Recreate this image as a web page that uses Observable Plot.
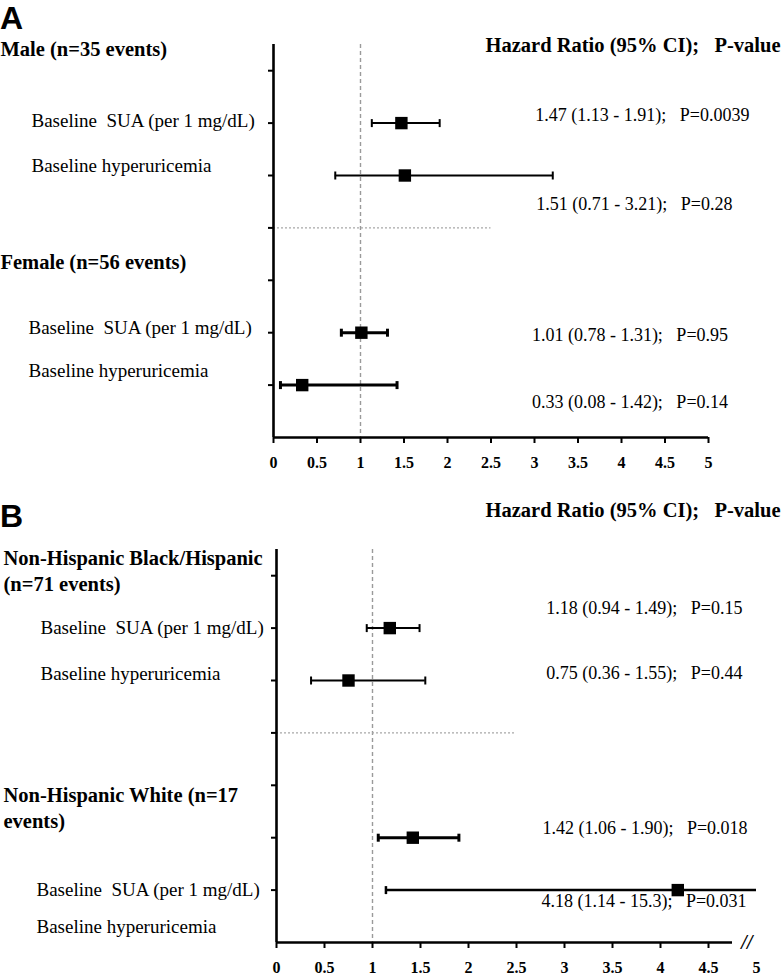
<!DOCTYPE html>
<html><head><meta charset="utf-8">
<script src="https://cdn.jsdelivr.net/npm/d3@7"></script>
<script src="https://cdn.jsdelivr.net/npm/@observablehq/plot@0.6"></script>
<style>
body{margin:0;background:#fff;}
#wrap{position:relative;width:782px;height:975px;overflow:hidden;}
.panel{position:absolute;left:0;}
.letter{position:absolute;left:0;font-family:"Liberation Sans",Arial,sans-serif;font-weight:bold;font-size:32px;line-height:1;}
svg text{white-space:pre;}
g[aria-label="x-axis tick label"] text{font-weight:bold;font-size:16px;}
</style>
</head><body>
<div id="wrap">
  <div class="letter" style="top:2px">A</div>
  <div class="letter" style="top:500px">B</div>
  <div class="panel" id="pa" style="top:0px"></div>
  <div class="panel" id="pb" style="top:480px"></div>
</div>
<script>
// ---------- data ----------
const rowLabels = ["Baseline  SUA (per 1 mg/dL)", "Baseline hyperuricemia"];
const headerText = "Hazard Ratio (95% CI);   P-value";
const xTicks = [0, 0.5, 1, 1.5, 2, 2.5, 3, 3.5, 4, 4.5, 5];

const A_groups = ["Male (n=35 events)", "Female (n=56 events)"];
const A_rows = [2, 3, 6, 7];
const A_hr = [1.47, 1.51, 1.01, 0.33];
const A_lo = [1.13, 0.71, 0.78, 0.08];
const A_hi = [1.91, 3.21, 1.31, 1.42];
const A_p  = ["0.0039", "0.28", "0.95", "0.14"];

const B_groups = ["Non-Hispanic Black/Hispanic\n(n=71 events)", "Non-Hispanic White (n=17\nevents)"];
const B_rows = [2, 3, 6, 7];
const B_hr = [1.18, 0.75, 1.42, 4.18];
const B_lo = [0.94, 0.36, 1.06, 1.14];
const B_hi = [1.49, 1.55, 1.90, 15.3];
const B_p  = ["0.15", "0.44", "0.018", "0.031"];

// ---------- layout (row units / pixels) ----------
const layoutA = {
  height: 480, marginTop: 44, marginBottom: 43, marginLeft: 273, marginRight: 74,
  groupY: [0.56, 4.62], groupX: [0, 0],
  labelY: [1.95, 2.81, 5.90, 6.72], labelX: [31, 31, 28, 28],
  hrY: [1.855, 3.55, 6.05, 7.33], hrX: [3.01, 3.02, 2.97, 2.97],
  headerY: 0.52, sw: [2, 2, 3, 3], axisEnd: 5, tickVals: xTicks, brk: false
};
const layoutB = {
  height: 495, marginTop: 69, marginBottom: 33, marginLeft: 276, marginRight: 26,
  groupY: [0.88, 5.41], groupX: [3, 3],
  labelY: [1.99, 2.87, 6.99, 7.71], labelX: [40, 40, 36, 36],
  hrY: [1.63, 2.87, 5.82, 7.22], hrX: [2.81, 2.81, 2.77, 2.76],
  headerY: -0.24, sw: [2, 2, 3, 2.5], axisEnd: 4.75, tickVals: xTicks.slice(0, -1), brk: true
};

const fmt = v => v >= 10 ? v.toFixed(1) : v.toFixed(2);
const vbar = {draw(ctx, size) { const r = Math.sqrt(size / Math.PI); ctx.moveTo(0, -r); ctx.lineTo(0, r); }};

function panel(groups, rows, hr, lo, hi, p, L) {
  const XMAX = 5;
  const data = rows.map((r, i) => ({i, row: r, hr: hr[i], lo: lo[i], hi: hi[i], p: p[i], sw: L.sw[i]}));
  const caps = [];
  data.forEach(d => {
    if (d.lo >= 0 && d.lo <= XMAX) caps.push({x: d.lo, row: d.row, sw: d.sw});
    if (d.hi <= XMAX) caps.push({x: d.hi, row: d.row, sw: d.sw});
  });
  const marks = [
    Plot.ruleX([1], {y1: 0.5, y2: 8, stroke: "#9a9a9a", strokeDasharray: "4,3", strokeWidth: 1.4}),
    Plot.ruleY([4], {x1: 0, x2: 2.5, stroke: "#a8a8a8", strokeDasharray: "2,2", strokeWidth: 1.4}),
    Plot.ruleY(data, {y: "row", x1: "lo", x2: d => Math.min(d.hi, XMAX), stroke: "black", strokeWidth: "sw"}),
    Plot.dot(caps, {x: "x", y: "row", symbol: vbar, r: 4, fill: "none", stroke: "black", strokeWidth: "sw"}),
    Plot.dot(data, {x: "hr", y: "row", symbol: "square", r: 7, fill: "black"}),
    Plot.ruleX([0], {y1: 0.5, y2: 8, stroke: "black", strokeWidth: 2.6}),
    Plot.ruleY([8], {x1: 0, x2: L.axisEnd, stroke: "black", strokeWidth: 2.6}),
    Plot.axisY({ticks: [1, 2, 3, 4, 5, 6, 7], tickSize: 5, tickFormat: () => "", strokeWidth: 2, label: null}),
    Plot.axisX({ticks: L.tickVals, tickSize: 6, tickFormat: () => "", strokeWidth: 2, label: null}),
    Plot.axisX({ticks: xTicks, tickSize: 0, tickPadding: 19, tickFormat: d => String(d), fontWeight: "bold", fontSize: 16, label: null}),
    Plot.text([headerText], {frameAnchor: "right", dx: 780 - (782 - L.marginRight), y: [L.headerY], textAnchor: "end", fontWeight: "bold", fontSize: 20.5}),
    Plot.text(data, {x: d => L.hrX[d.i], y: d => L.hrY[d.i], textAnchor: "start", fontSize: 18,
      text: d => `${fmt(d.hr)} (${fmt(d.lo)} - ${fmt(d.hi)});   P=${d.p}`})
  ];
  groups.forEach((g, gi) => {
    marks.push(Plot.text([g], {frameAnchor: "left", dx: L.groupX[gi] - L.marginLeft, y: [L.groupY[gi]], textAnchor: "start", fontWeight: "bold", fontSize: 20.5, lineHeight: 1.27}));
  });
  data.forEach(d => {
    marks.push(Plot.text([rowLabels[d.i % 2]], {frameAnchor: "left", dx: L.labelX[d.i] - L.marginLeft, y: [L.labelY[d.i]], textAnchor: "start", fontSize: 19}));
  });
  if (L.brk) marks.push(Plot.text(["//"], {x: [4.9], y: [8], fontWeight: "bold", fontSize: 20, fontStyle: "italic"}));
  return Plot.plot({
    width: 782, height: L.height,
    marginTop: L.marginTop, marginBottom: L.marginBottom, marginLeft: L.marginLeft, marginRight: L.marginRight,
    x: {domain: [0, 5]}, y: {domain: [0.5, 8], reverse: true},
    style: {fontFamily: "'Liberation Serif', 'Times New Roman', serif", color: "black", background: "transparent"},
    marks
  });
}

document.getElementById("pa").appendChild(panel(A_groups, A_rows, A_hr, A_lo, A_hi, A_p, layoutA));
document.getElementById("pb").appendChild(panel(B_groups, B_rows, B_hr, B_lo, B_hi, B_p, layoutB));
</script>
</body></html>
